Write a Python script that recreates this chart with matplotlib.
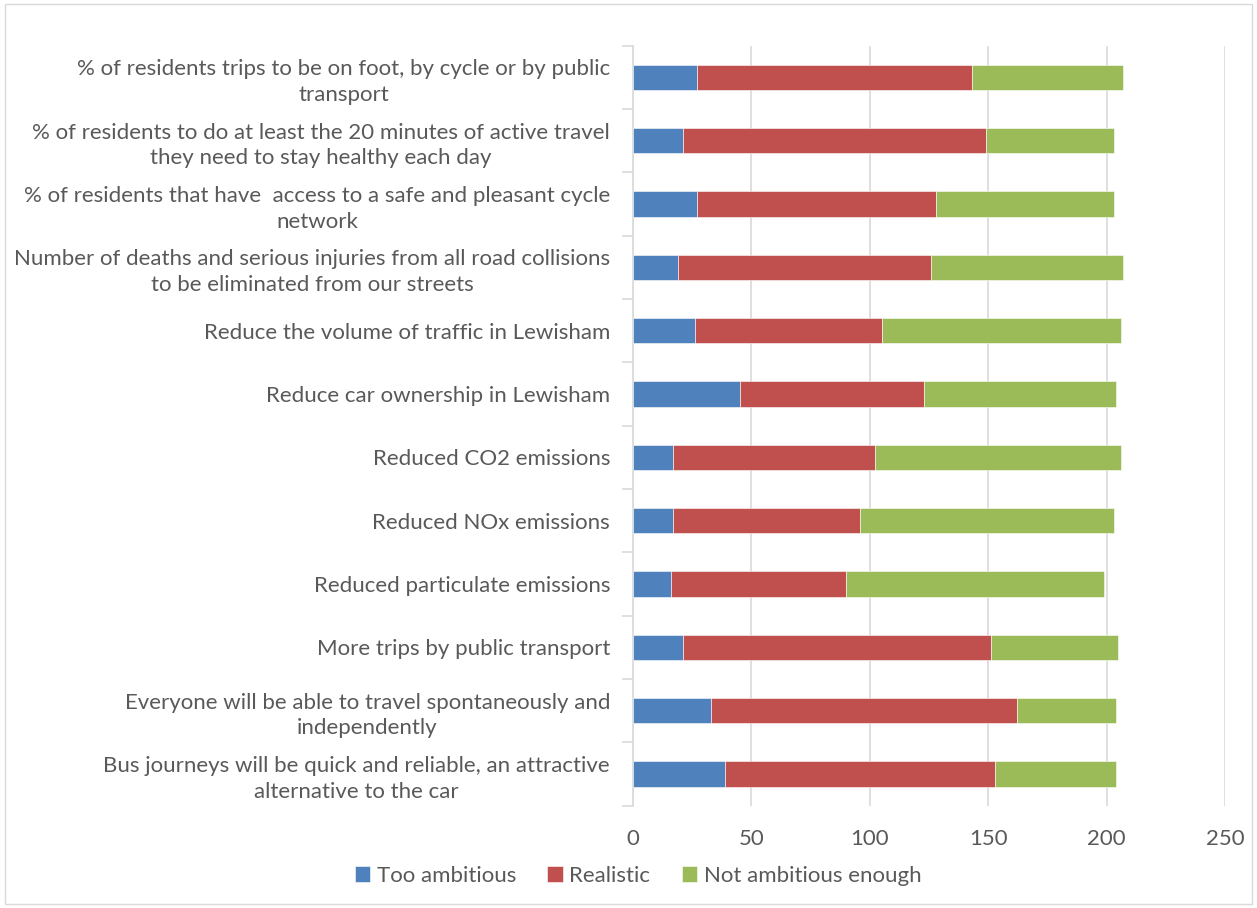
import matplotlib.pyplot as plt
import numpy as np
from matplotlib.patches import Rectangle

categories = [
    "% of residents trips to be on foot, by cycle or by public\ntransport",
    "% of residents to do at least the 20 minutes of active travel\nthey need to stay healthy each day",
    "% of residents that have  access to a safe and pleasant cycle\nnetwork",
    "Number of deaths and serious injuries from all road collisions\nto be eliminated from our streets",
    "Reduce the volume of traffic in Lewisham",
    "Reduce car ownership in Lewisham",
    "Reduced CO2 emissions",
    "Reduced NOx emissions",
    "Reduced particulate emissions",
    "More trips by public transport",
    "Everyone will be able to travel spontaneously and\nindependently",
    "Bus journeys will be quick and reliable, an attractive\nalternative to the car",
]
too_ambitious = [27, 21, 27, 19, 26, 45, 17, 17, 16, 21, 33, 39]
realistic = [116, 128, 101, 107, 79, 78, 85, 79, 74, 130, 129, 114]
not_enough = [64, 54, 75, 81, 101, 81, 104, 107, 109, 54, 42, 51]
series_names = ["Too ambitious", "Realistic", "Not ambitious enough"]
colors = ["#4F81BD", "#C0504D", "#9BBB59"]
xticks = [0, 50, 100, 150, 200, 250]

plt.rcParams['font.family'] = ['Lato', 'DejaVu Sans']
txt = "#595959"

fig = plt.figure(figsize=(12.57, 9.08), dpi=100)
ax = fig.add_axes([633/1257, 1 - 805.7/908, (1225-633)/1257, (805.7-45.7)/908])

y = np.arange(len(categories))
left = np.zeros(len(categories))
for vals, name, c in zip([too_ambitious, realistic, not_enough], series_names, colors):
    ax.barh(y, vals, left=left, height=0.4, color=c, edgecolor="white", linewidth=0.4, label=name, zorder=3)
    left = left + np.array(vals)

ax.set_ylim(len(categories) - 0.5, -0.5)
ax.set_xlim(0, 250)
ax.set_xticks(xticks)
ax.set_yticks(y)
ax.set_yticklabels(categories, multialignment="center", linespacing=1.35)
ax.set_yticks(np.arange(len(categories) + 1) - 0.5, minor=True)
ax.tick_params(axis="y", which="major", length=0, pad=16.5, labelsize=16, labelcolor=txt)
ax.tick_params(axis="y", which="minor", length=8, color="#d9d9d9", width=1.2)
ax.tick_params(axis="x", length=0, pad=17, labelsize=16, labelcolor=txt)
ax.grid(axis="x", color="#d9d9d9", linewidth=1.2, zorder=0)
for s in ["top", "right", "bottom"]:
    ax.spines[s].set_visible(False)
ax.spines["left"].set_color("#d9d9d9")
ax.spines["left"].set_linewidth(1.2)

fig.legend(loc="center", bbox_to_anchor=(638/1257, 1 - 876/908), ncol=3, frameon=False,
           fontsize=16, labelcolor=txt, handlelength=0.7, handleheight=0.7, handletextpad=0.3,
           columnspacing=1.4)

fig.patches.append(Rectangle((0.004, 0.004), 0.992, 0.992, transform=fig.transFigure,
                             fill=False, edgecolor="#d9d9d9", linewidth=1))

fig.savefig("out.png", dpi=100)
